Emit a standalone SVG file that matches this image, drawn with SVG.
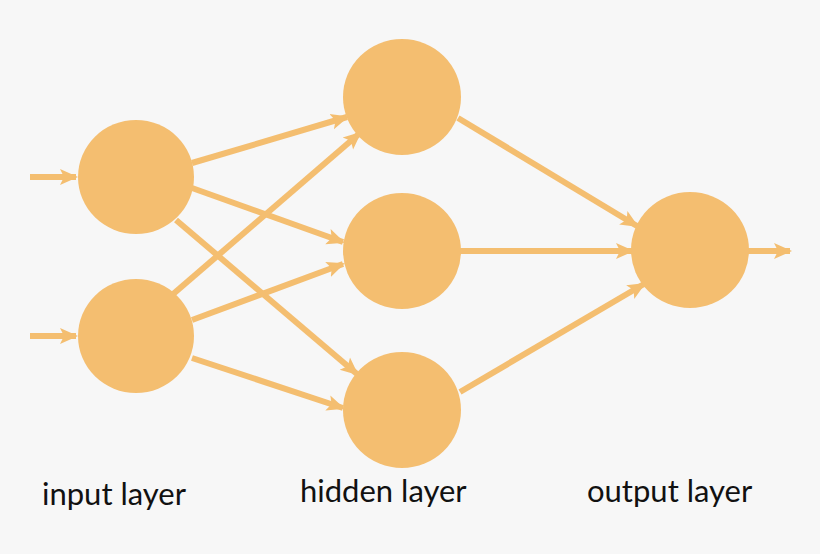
<svg xmlns="http://www.w3.org/2000/svg" width="820" height="554" viewBox="0 0 820 554">
<style>
.n{fill:#F4BE70}
.c line{stroke:#F4BE70;stroke-width:6;marker-end:url(#a)}
text{font-family:Lato,"Liberation Sans",sans-serif;font-size:31px;fill:#111}
</style>
<defs><marker id="a" markerUnits="userSpaceOnUse" markerWidth="20" markerHeight="20" viewBox="0 0 20 20" refX="16" refY="10" orient="auto"><path d="M0,2 L18,10 L0,18 L4,10 Z" fill="#F4BE70"/></marker></defs>
<rect width="820" height="554" fill="#f7f7f7"/>
<g class="c">
<line x1="30" y1="177" x2="76" y2="177"/>
<line x1="30" y1="336" x2="76" y2="336"/>
<line x1="192" y1="163" x2="347" y2="117"/>
<line x1="192" y1="188" x2="343" y2="242"/>
<line x1="176" y1="220" x2="357" y2="374"/>
<line x1="172" y1="295" x2="360" y2="133"/>
<line x1="192" y1="320" x2="343" y2="264"/>
<line x1="192" y1="358" x2="343" y2="408"/>
<line x1="458" y1="118" x2="637" y2="226"/>
<line x1="460" y1="251" x2="632" y2="251"/>
<line x1="460" y1="392" x2="644" y2="284"/>
<line x1="748" y1="251" x2="790" y2="251"/>
</g>
<g id="i1"><ellipse class="n" cx="136" cy="177" rx="58" ry="57"/></g>
<g id="i2"><ellipse class="n" cx="136" cy="336" rx="58" ry="57"/></g>
<g id="h1"><ellipse class="n" cx="402" cy="97" rx="59" ry="58"/></g>
<g id="h2"><ellipse class="n" cx="402" cy="251" rx="59" ry="58"/></g>
<g id="h3"><ellipse class="n" cx="402" cy="410" rx="59" ry="58"/></g>
<g id="o"><ellipse class="n" cx="690" cy="250" rx="59" ry="58"/></g>
<text x="42" y="505">input layer</text>
<text x="300" y="502">hidden layer</text>
<text x="587" y="502">output layer</text>
</svg>
